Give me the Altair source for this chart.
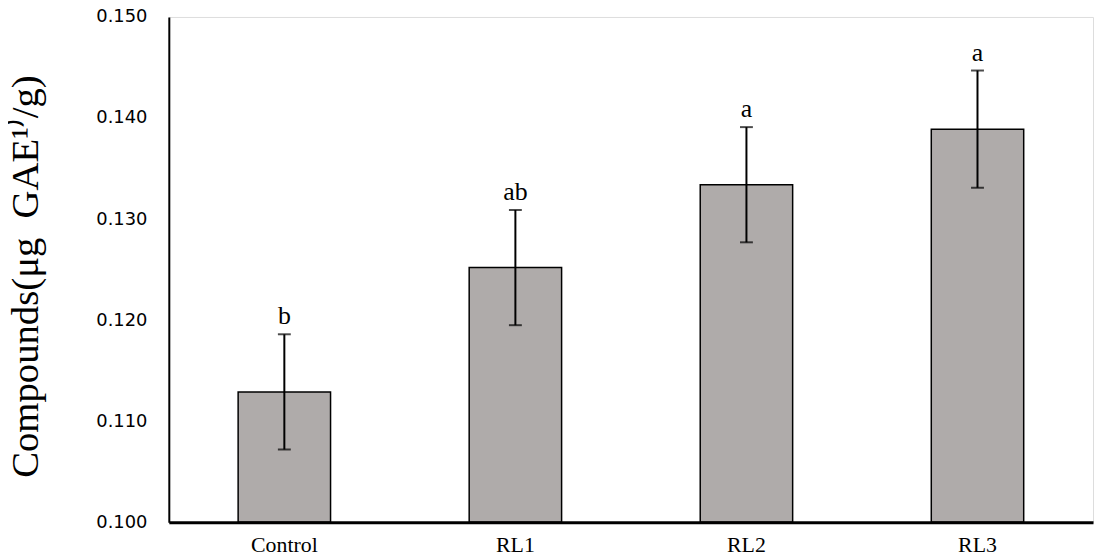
import altair as alt
import pandas as pd

groups = ["Control", "RL1", "RL2", "RL3"]
means = [0.1129, 0.1252, 0.1334, 0.1389]
sds = [0.0057, 0.0057, 0.0057, 0.0058]
letters = ["b", "ab", "a", "a"]
y_ticks = [0.100, 0.110, 0.120, 0.130, 0.140, 0.150]
y_base = 0.100

df = pd.DataFrame({"group": groups, "mean": means, "sd": sds, "letter": letters})
df["lo"] = df["mean"] - df["sd"]
df["hi"] = df["mean"] + df["sd"]

x_enc = alt.X(
    "group:N",
    sort=groups,
    title=None,
    scale=alt.Scale(paddingInner=0.6, paddingOuter=0.3),
    axis=alt.Axis(
        labelAngle=0,
        labelFont="Liberation Serif",
        labelFontSize=22,
        labelColor="black",
        labelBaseline="alphabetic",
        labelPadding=29,
        ticks=False,
        tickSize=0,
        domainColor="black",
        domainWidth=3,
        zindex=1,
    ),
)

y_scale = alt.Scale(domain=[0.100, 0.150], nice=False, zero=False)

bars = alt.Chart(df).mark_bar(
    color="#afabaa", stroke="black", strokeWidth=1.5
).encode(
    x=x_enc,
    y=alt.Y(
        "mean:Q",
        scale=y_scale,
        title="Compounds(μg\u00a0\u00a0GAE¹⁾/g)",
        axis=alt.Axis(
            values=y_ticks,
            format=".3f",
            grid=False,
            ticks=False,
            tickSize=0,
            labelFont="DejaVu Sans",
            labelFontSize=18,
            labelColor="black",
            labelPadding=22,
            domainColor="black",
            domainWidth=2,
            titleFont="Liberation Serif",
            titleFontSize=39,
            titleFontWeight="normal",
            titleColor="black",
            titleBaseline="alphabetic",
            titleX=-132,
            titleY=261,
            titleAngle=270,
            zindex=1,
        ),
    ),
    y2=alt.datum(y_base),
)

rules = alt.Chart(df).mark_rule(color="black", strokeWidth=2).encode(
    x=alt.X("group:N", sort=groups),
    y=alt.Y("lo:Q", scale=y_scale),
    y2="hi:Q",
)

caps_hi = alt.Chart(df).mark_tick(color="black", size=13, thickness=2).encode(
    x=alt.X("group:N", sort=groups),
    y=alt.Y("hi:Q", scale=y_scale),
)
caps_lo = alt.Chart(df).mark_tick(color="black", size=13, thickness=2).encode(
    x=alt.X("group:N", sort=groups),
    y=alt.Y("lo:Q", scale=y_scale),
)

labels = alt.Chart(df).mark_text(
    font="Liberation Serif", fontSize=26, color="black", baseline="alphabetic", dy=-10
).encode(
    x=alt.X("group:N", sort=groups),
    y=alt.Y("hi:Q", scale=y_scale),
    text="letter:N",
)

chart = alt.layer(bars, rules, caps_hi, caps_lo, labels).properties(
    width=931,
    height=509,
    autosize=alt.AutoSizeParams(type="none"),
    padding={"left": 162, "top": 7, "right": 2, "bottom": 36},
).configure_view(
    stroke="black", strokeWidth=2
).configure(background="white")

chart.save("out.html", embed_options={"renderer": "svg", "actions": False})
